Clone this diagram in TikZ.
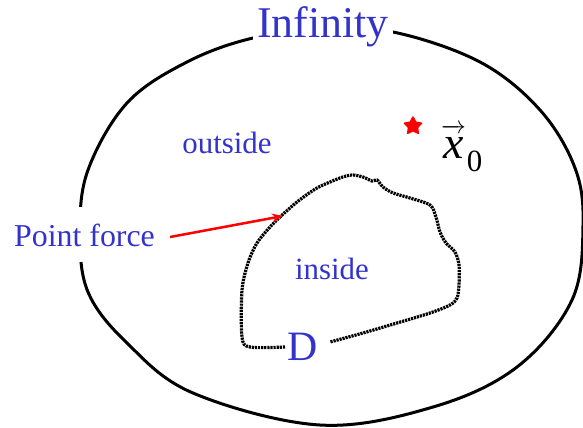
\documentclass[tikz,border=0pt]{standalone}
\usepackage{fontspec}
\setmainfont{Liberation Serif}
\usetikzlibrary{arrows.meta,shapes.geometric}
\definecolor{lblue}{RGB}{51,51,204}
\begin{document}
\begin{tikzpicture}[x=1bp,y=-1bp,
  lbl/.style={text=lblue,inner sep=0pt},
  outline/.style={line width=3bp,black},
  boundary/.style={line width=3.2bp,black,dash pattern=on 2.2bp off 0.9bp},
  force/.style={red,line width=2.5bp,-{Stealth[length=11bp,width=9bp]}}]
\useasboundingbox (0,0) rectangle (583,427);
% outer boundary (infinity)
\draw[outline] plot[smooth cycle, tension=0.6] coordinates {
 (80,232) (88,170) (127,103) (187,62) (253,38) (323,30) (393,32) (480,62)
 (540,110) (575,168) (583,225) (572,300) (517,367) (433,407) (320,425)
 (193,393) (127,343) (88,292)};
% inner boundary D
\draw[boundary] plot[smooth, tension=0.5] coordinates {
 (285,347) (250,347) (242,337) (242,290) (248,263) (257,243) (270,227)
 (280,217) (297,202) (317,188) (340,178) (352,175) (363,177) (372,181)
 (377,180) (383,187) (393,193) (410,198) (430,205) (436,217) (440,232)
 (446,243) (455,252) (459,265) (459,285) (457,298) (450,305) (430,313)
 (397,323) (363,333) (330,342)};
% labels
\node[lbl, fill=white, inner xsep=4bp, inner ysep=5bp, anchor=base,
  font=\fontsize{44}{44}\selectfont] (inf) at (323,37) {Infinity};
\node[lbl, font=\fontsize{31}{31}\selectfont] (out) at (227,143) {outside};
\node[lbl, font=\fontsize{31}{31}\selectfont] (ins) at (332,268.5) {inside};
\node[lbl, fill=white, inner xsep=2bp, text height=39bp, text depth=16bp,
  anchor=base, font=\fontsize{32}{32}\selectfont] (pf) at (84.5,246) {Point force};
\node[lbl, font=\fontsize{42}{42}\selectfont] (D) at (303,346.5) {D};
\node[inner sep=0pt, anchor=base west, font=\fontsize{46}{46}\selectfont] (x0) at (441,158)
  {$\overrightarrow{\vphantom{\textit{t}}\textit{x}}$\kern1bp\raisebox{-13bp}{\fontsize{31}{31}\selectfont 0}};
\node[star, star points=5, star point ratio=1.9, fill=red, draw=red, line width=1.5bp,
  line join=round, minimum size=18bp, inner sep=0pt] (st) at (413,126) {};
% point force arrow
\coordinate (fa) at (170,237);
\coordinate (fb) at (283,216);
\draw[force] (fa) -- (fb);
\end{tikzpicture}
\end{document}
